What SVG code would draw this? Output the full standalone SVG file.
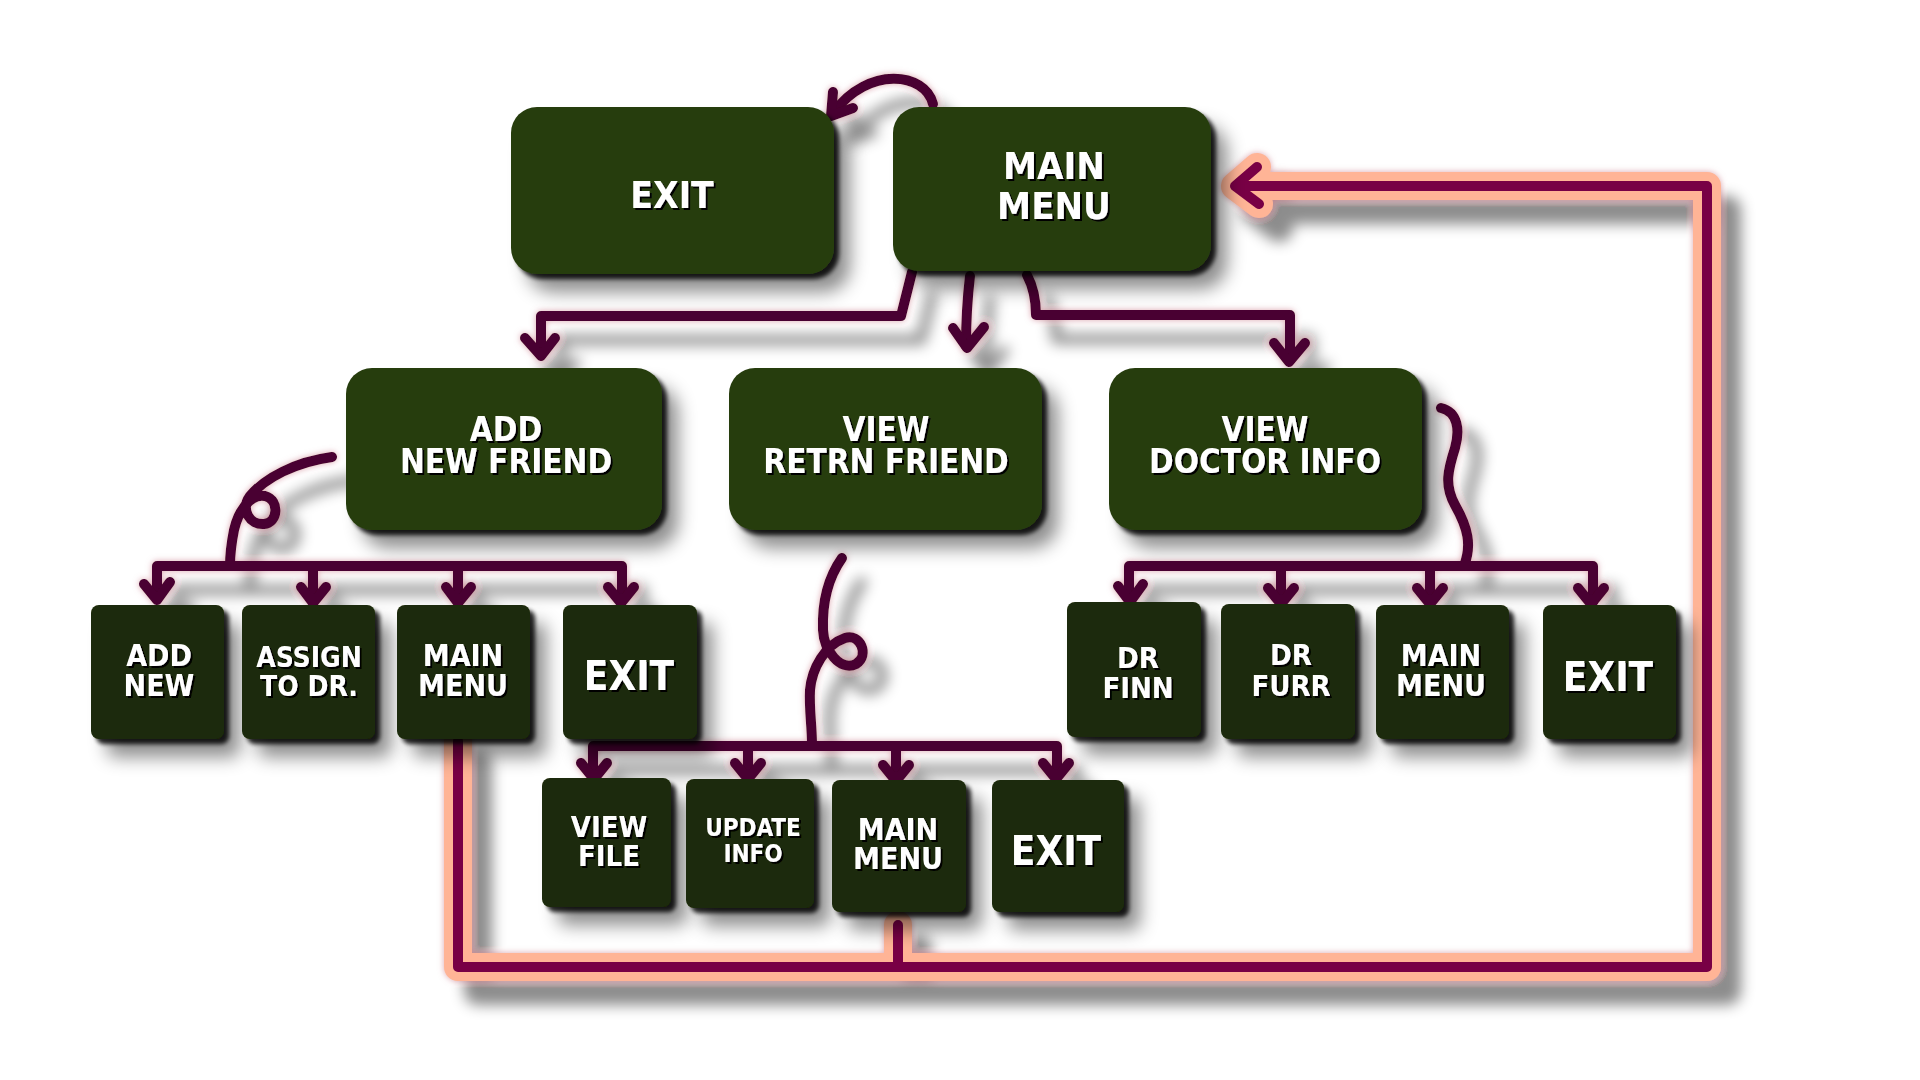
<svg xmlns="http://www.w3.org/2000/svg" width="1920" height="1080" viewBox="0 0 1920 1080">
<defs>
<filter id="boxShadow" filterUnits="userSpaceOnUse" x="0" y="0" width="1920" height="1080">
 <feGaussianBlur in="SourceAlpha" stdDeviation="9" result="b1"/>
 <feOffset in="b1" dx="16" dy="18" result="o1"/>
 <feFlood flood-color="#000" flood-opacity="0.45"/>
 <feComposite in2="o1" operator="in" result="s1"/>
 <feGaussianBlur in="SourceAlpha" stdDeviation="2" result="b2"/>
 <feOffset in="b2" dx="5" dy="5" result="o2"/>
 <feFlood flood-color="#000" flood-opacity="0.85"/>
 <feComposite in2="o2" operator="in" result="s2"/>
 <feMerge><feMergeNode in="s1"/><feMergeNode in="s2"/><feMergeNode in="SourceGraphic"/></feMerge>
</filter>
<filter id="lineShadow" filterUnits="userSpaceOnUse" x="0" y="0" width="1920" height="1080">
 <feGaussianBlur in="SourceAlpha" stdDeviation="7" result="b1"/>
 <feOffset in="b1" dx="20" dy="24" result="o1"/>
 <feFlood flood-color="#000" flood-opacity="0.45"/>
 <feComposite in2="o1" operator="in" result="s1"/>
 <feGaussianBlur in="SourceAlpha" stdDeviation="3" result="b2"/>
 <feFlood flood-color="#c46a7a" flood-opacity="0.6"/>
 <feComposite in2="b2" operator="in" result="s2"/>
 <feMerge><feMergeNode in="s1"/><feMergeNode in="s2"/><feMergeNode in="SourceGraphic"/></feMerge>
</filter>
<filter id="textShadow" filterUnits="userSpaceOnUse" x="0" y="0" width="1920" height="1080">
 <feDropShadow dx="2" dy="2" stdDeviation="0.6" flood-color="#000" flood-opacity="0.95"/>
</filter>
<style>
 .big { fill: #283d10; }
 .small { fill: #1b2908; }
 .node { filter: url(#boxShadow); }
 text { font-family: "DejaVu Sans Condensed", "DejaVu Sans", sans-serif; font-weight: bold; fill: #ffffff; text-anchor: middle; filter: url(#textShadow); }
 .c { fill: none; stroke: #480030; stroke-width: 10; stroke-linecap: round; stroke-linejoin: round; }
 .peach { fill: none; stroke: #ffb496; stroke-width: 28; stroke-linecap: round; stroke-linejoin: round; }
 .ret { fill: none; stroke: #780044; stroke-width: 10; stroke-linecap: round; stroke-linejoin: round; }
</style>
</defs>
<rect width="1920" height="1080" fill="#ffffff"/>

<g id="connectors">
 <g filter="url(#lineShadow)">
  <path class="peach" d="M458 741 V967 H1707 V186 H1240 M898 925 V967 M1257 167 L1235 186 L1259 204"/>
  <path class="ret" d="M458 741 V967 H1707 V186 H1240 M898 925 V967 M1257 167 L1235 186 L1259 204"/>
 </g>
 <g filter="url(#lineShadow)">
  <path class="c" d="M933 104 C925 72 868 66 834 112"/>
  <path class="c" d="M833 92 L831 116 L853 108"/>
  <path class="c" d="M912 272 Q905 300 901 316 H541 V354"/>
  <path class="c" d="M525 338 L541 356 L555 338"/>
  <path class="c" d="M970 276 Q966 310 966 346"/>
  <path class="c" d="M953 328 L967 348 L984 327"/>
  <path class="c" d="M1027 275 Q1036 292 1036 315 H1290 V360"/>
  <path class="c" d="M1274 343 L1289 362 L1305 343"/>

  <path class="c" d="M332 457 C295 462 265 478 250 496 C240 510 250 525 264 524 C278 523 280 500 265 496 C250 493 238 512 234 530 C231 545 230 556 230 566"/>
  <path class="c" d="M157 598 V566 H622 V600 M313 566 V601 M458 566 V601"/>
  <path class="c" d="M144 584 L157 600 L170 582 M301 587 L313 603 L326 587 M446 587 L458 603 L471 587 M608 587 L621 603 L634 587"/>

  <path class="c" d="M842 558 C830 575 822 600 823 630 C824 650 840 672 856 664 C870 655 860 633 845 638 C825 645 812 668 810 690 C809 710 812 725 812 745"/>
  <path class="c" d="M593 776 V746 H1057 V776 M748 746 V777 M896 746 V779"/>
  <path class="c" d="M581 763 L594 779 L607 763 M735 763 L748 779 L761 763 M883 765 L896 781 L909 765 M1043 763 L1056 779 L1069 763"/>

  <path class="c" d="M1441 408 C1458 412 1460 430 1455 448 C1448 470 1444 485 1455 505 C1468 528 1472 545 1464 566"/>
  <path class="c" d="M1129 600 V566 H1593 V602 M1281 566 V603 M1430 566 V603"/>
  <path class="c" d="M1118 586 L1130 602 L1143 584 M1268 588 L1281 604 L1294 588 M1417 588 L1430 604 L1443 588 M1578 588 L1591 604 L1604 588"/>
 </g>
</g>

<g id="node-exit-top" class="node"><rect class="big" x="511" y="107" width="323" height="167" rx="26"/><text x="672" y="208" font-size="37">EXIT</text></g>
<g id="node-main-menu" class="node"><rect class="big" x="893" y="107" width="318" height="164" rx="26"/><text x="1054" y="179" font-size="38">MAIN<tspan x="1054" dy="40">MENU</tspan></text></g>

<g id="node-add-new-friend" class="node"><rect class="big" x="346" y="368" width="316" height="162" rx="26"/><text x="506" y="441" font-size="33">ADD<tspan x="506" dy="32">NEW FRIEND</tspan></text></g>
<g id="node-view-retrn-friend" class="node"><rect class="big" x="729" y="368" width="313" height="162" rx="26"/><text x="886" y="441" font-size="33">VIEW<tspan x="886" dy="32">RETRN FRIEND</tspan></text></g>
<g id="node-view-doctor-info" class="node"><rect class="big" x="1109" y="368" width="313" height="162" rx="26"/><text x="1265" y="441" font-size="33">VIEW<tspan x="1265" dy="32">DOCTOR INFO</tspan></text></g>

<g id="node-add-new" class="node"><rect class="small" x="91" y="605" width="133" height="134" rx="8"/><text x="159" y="666" font-size="30">ADD<tspan x="159" dy="30">NEW</tspan></text></g>
<g id="node-assign-to-dr" class="node"><rect class="small" x="242" y="605" width="133" height="134" rx="8"/><text x="309" y="667" font-size="28">ASSIGN<tspan x="309" dy="29">TO DR.</tspan></text></g>
<g id="node-main-menu-1" class="node"><rect class="small" x="397" y="605" width="133" height="134" rx="8"/><text x="463" y="666" font-size="30">MAIN<tspan x="463" dy="30">MENU</tspan></text></g>
<g id="node-exit-1" class="node"><rect class="small" x="563" y="605" width="134" height="134" rx="8"/><text x="629" y="690" font-size="40">EXIT</text></g>

<g id="node-view-file" class="node"><rect class="small" x="542" y="778" width="129" height="129" rx="8"/><text x="609" y="837" font-size="29">VIEW<tspan x="609" dy="29">FILE</tspan></text></g>
<g id="node-update-info" class="node"><rect class="small" x="686" y="779" width="128" height="129" rx="8"/><text x="753" y="836" font-size="24">UPDATE<tspan x="753" dy="26">INFO</tspan></text></g>
<g id="node-main-menu-2" class="node"><rect class="small" x="832" y="780" width="134" height="132" rx="8"/><text x="898" y="840" font-size="30">MAIN<tspan x="898" dy="29">MENU</tspan></text></g>
<g id="node-exit-2" class="node"><rect class="small" x="992" y="780" width="132" height="132" rx="8"/><text x="1056" y="865" font-size="40">EXIT</text></g>

<g id="node-dr-finn" class="node"><rect class="small" x="1067" y="602" width="134" height="135" rx="8"/><text x="1138" y="668" font-size="29">DR<tspan x="1138" dy="30">FINN</tspan></text></g>
<g id="node-dr-furr" class="node"><rect class="small" x="1221" y="604" width="134" height="135" rx="8"/><text x="1291" y="665" font-size="29">DR<tspan x="1291" dy="31">FURR</tspan></text></g>
<g id="node-main-menu-3" class="node"><rect class="small" x="1376" y="605" width="133" height="134" rx="8"/><text x="1441" y="666" font-size="30">MAIN<tspan x="1441" dy="30">MENU</tspan></text></g>
<g id="node-exit-3" class="node"><rect class="small" x="1543" y="605" width="133" height="134" rx="8"/><text x="1608" y="691" font-size="40">EXIT</text></g>
</svg>
